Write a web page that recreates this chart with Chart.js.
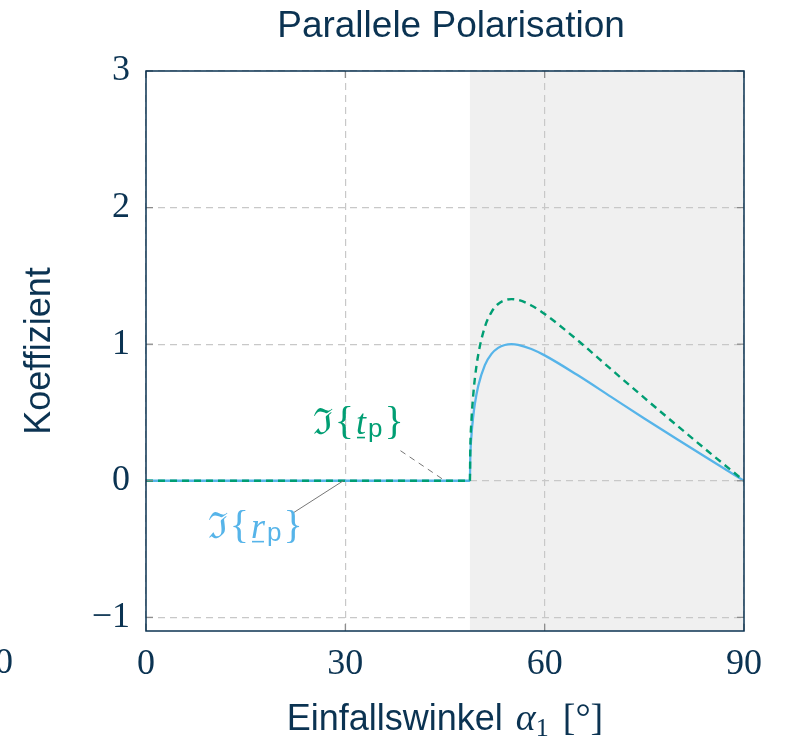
<!DOCTYPE html>
<html>
<head>
<meta charset="utf-8">
<script src="https://cdn.jsdelivr.net/npm/chart.js@4.4.1/dist/chart.umd.min.js"></script>
<style>
  html, body { margin: 0; padding: 0; background: #ffffff; }
  #wrap { width: 792px; height: 741px; }
</style>
</head>
<body>
<div id="wrap"><canvas id="c" width="792" height="741"></canvas></div>
<script>
// ---- data ----
const angles = [0, 48.75, 48.8, 49, 49.25, 49.5, 50, 51, 52, 53, 54, 55, 56, 58, 60, 65, 70, 75, 80, 85, 90];
const imRp   = [0, 0, 0.158, 0.342, 0.472, 0.565, 0.694, 0.847, 0.929, 0.973, 0.994, 1.000, 0.995, 0.965, 0.918, 0.772, 0.614, 0.456, 0.302, 0.150, 0];
const imTp   = [0, 0, 0.209, 0.454, 0.628, 0.751, 0.923, 1.126, 1.235, 1.294, 1.322, 1.330, 1.324, 1.283, 1.221, 1.027, 0.816, 0.607, 0.401, 0.199, 0];
const xTicks = [0, 30, 60, 90];
const yTicks = [-1, 0, 1, 2, 3];
const criticalAngle = 48.75;

const TEXT = '#0b3352';
const FRAME = '#0b3352';
const BLUE = '#56b4e9';
const GREEN = '#009e73';
const SANS = '"Liberation Sans", Arial, sans-serif';
const SERIF = '"Liberation Serif", "Times New Roman", serif';

function drawParts(ctx, parts, x, y, align) {
  let total = 0;
  parts.forEach(p => { ctx.font = p.font; p.w = ctx.measureText(p.t).width; total += p.w + (p.gap || 0); });
  let cx = align === 'center' ? x - total / 2 : x;
  ctx.textAlign = 'left';
  ctx.textBaseline = 'alphabetic';
  parts.forEach(p => {
    ctx.font = p.font;
    ctx.fillStyle = p.color;
    ctx.fillText(p.t, cx, y + (p.dy || 0));
    if (p.underline) {
      ctx.fillRect(cx + 1, y + 3, p.w - 2, 1.6);
    }
    cx += p.w + (p.gap || 0);
  });
}

const annotations = [
  { color: GREEN, sub: 't', labelX: 25.1, labelY: 0.344, fromX: 38.3, fromY: 0.22, toX: 45, toY: 0, dashed: true },
  { color: BLUE,  sub: 'r', labelX: 9.3,  labelY: -0.418, fromX: 22.0, fromY: -0.24, toX: 29.7, toY: 0, dashed: false }
];

const deco = {
  id: 'deco',
  beforeDraw(chart) {
    const { ctx, chartArea: a, scales: { x } } = chart;
    ctx.save();
    ctx.fillStyle = '#ffffff';
    ctx.fillRect(0, 0, chart.width, chart.height);
    const xc = x.getPixelForValue(criticalAngle);
    ctx.fillStyle = '#f0f0f0';
    ctx.fillRect(xc, a.top, a.right - xc, a.bottom - a.top);
    ctx.restore();
  },
  afterDatasetsDraw(chart) {
    const { ctx, chartArea: a, scales: { x, y } } = chart;
    ctx.save();
    // inner tick marks
    ctx.strokeStyle = '#8a8a8a';
    ctx.lineWidth = 1.2;
    xTicks.forEach(v => {
      const px = x.getPixelForValue(v);
      ctx.beginPath(); ctx.moveTo(px, a.bottom); ctx.lineTo(px, a.bottom - 7); ctx.stroke();
      ctx.beginPath(); ctx.moveTo(px, a.top); ctx.lineTo(px, a.top + 7); ctx.stroke();
    });
    yTicks.forEach(v => {
      const py = y.getPixelForValue(v);
      ctx.beginPath(); ctx.moveTo(a.left, py); ctx.lineTo(a.left + 7, py); ctx.stroke();
      ctx.beginPath(); ctx.moveTo(a.right, py); ctx.lineTo(a.right - 7, py); ctx.stroke();
    });
    // frame
    ctx.strokeStyle = FRAME;
    ctx.lineWidth = 1.5;
    ctx.strokeRect(a.left, a.top, a.right - a.left, a.bottom - a.top);

    // leader lines and labels
    annotations.forEach(an => {
      ctx.strokeStyle = '#777777';
      ctx.lineWidth = 1;
      ctx.setLineDash(an.dashed ? [6, 5] : []);
      ctx.beginPath();
      ctx.moveTo(x.getPixelForValue(an.fromX), y.getPixelForValue(an.fromY));
      ctx.lineTo(x.getPixelForValue(an.toX), y.getPixelForValue(an.toY));
      ctx.stroke();
      ctx.setLineDash([]);
      drawParts(ctx, [
        { t: '\u2111', font: '36px "DejaVu Serif", serif', color: an.color, gap: 2 },
        { t: '{', font: '40px ' + SERIF, color: an.color, gap: 2 },
        { t: an.sub, font: 'italic 36px ' + SERIF, color: an.color, underline: true, gap: 2 },
        { t: 'p', font: '26px ' + SANS, color: an.color, dy: 3, gap: 2 },
        { t: '}', font: '40px ' + SERIF, color: an.color }
      ], x.getPixelForValue(an.labelX), y.getPixelForValue(an.labelY), 'left');
    });

    // title
    ctx.fillStyle = TEXT;
    ctx.font = '37px ' + SANS;
    ctx.textAlign = 'center';
    ctx.textBaseline = 'alphabetic';
    ctx.fillText('Parallele Polarisation', (a.left + a.right) / 2 + 6, 37);

    // y title
    ctx.save();
    ctx.translate(50, (a.top + a.bottom) / 2);
    ctx.rotate(-Math.PI / 2);
    ctx.font = '36px ' + SANS;
    ctx.textAlign = 'center';
    ctx.fillText('Koeffizient', 0, 0);
    ctx.restore();

    // x title
    drawParts(ctx, [
      { t: 'Einfallswinkel ', font: '36px ' + SANS, color: TEXT, gap: 3 },
      { t: '\u03b1', font: 'italic 38px ' + SERIF, color: TEXT },
      { t: '1', font: '26px ' + SERIF, color: TEXT, dy: 6, gap: 14 },
      { t: '[\u00b0]', font: '38px ' + SERIF, color: TEXT }
    ], (a.left + a.right) / 2, 730, 'center');

    // clipped tick label of a neighbouring plot at the left edge
    ctx.font = '36px ' + SERIF;
    ctx.fillStyle = TEXT;
    ctx.textAlign = 'right';
    ctx.fillText('90', 13, 673);
    ctx.restore();
  }
};

new Chart(document.getElementById('c'), {
  type: 'line',
  data: {
    datasets: [
      {
        label: 'Im{t_p}',
        data: angles.map((a, i) => ({ x: a, y: imTp[i] })),
        borderColor: GREEN, borderWidth: 2.4, borderDash: [7, 5],
        pointRadius: 0, fill: false, cubicInterpolationMode: 'monotone', order: 0
      },
      {
        label: 'Im{r_p}',
        data: angles.map((a, i) => ({ x: a, y: imRp[i] })),
        borderColor: BLUE, borderWidth: 2.3, pointRadius: 0, fill: false,
        cubicInterpolationMode: 'monotone', order: 1
      }
    ]
  },
  options: {
    responsive: false,
    animation: false,
    devicePixelRatio: 1,
    layout: { padding: { left: 0, top: 71, right: 48, bottom: 0 } },
    plugins: { legend: { display: false }, tooltip: { enabled: false }, title: { display: false } },
    scales: {
      x: {
        type: 'linear', min: 0, max: 90,
        afterBuildTicks: s => { s.ticks = xTicks.map(v => ({ value: v })); },
        afterFit: s => { s.height = 110; },
        border: { display: false, dash: [7, 5] },
        grid: { color: '#c8c8c8', lineWidth: 1.2, drawTicks: false },
        ticks: { color: TEXT, font: { family: SERIF, size: 36 }, padding: 12, maxRotation: 0,
                 callback: v => String(v) }
      },
      y: {
        type: 'linear', min: -1.1, max: 3,
        afterBuildTicks: s => { s.ticks = yTicks.map(v => ({ value: v })); },
        afterFit: s => { s.width = 146; },
        border: { display: false, dash: [7, 5] },
        grid: { color: '#c8c8c8', lineWidth: 1.2, drawTicks: false },
        ticks: { color: TEXT, font: { family: SERIF, size: 36 }, padding: 16,
                 callback: v => (v < 0 ? '\u2212' + Math.abs(v) : String(v)) }
      }
    }
  },
  plugins: [deco]
});
</script>
</body>
</html>
